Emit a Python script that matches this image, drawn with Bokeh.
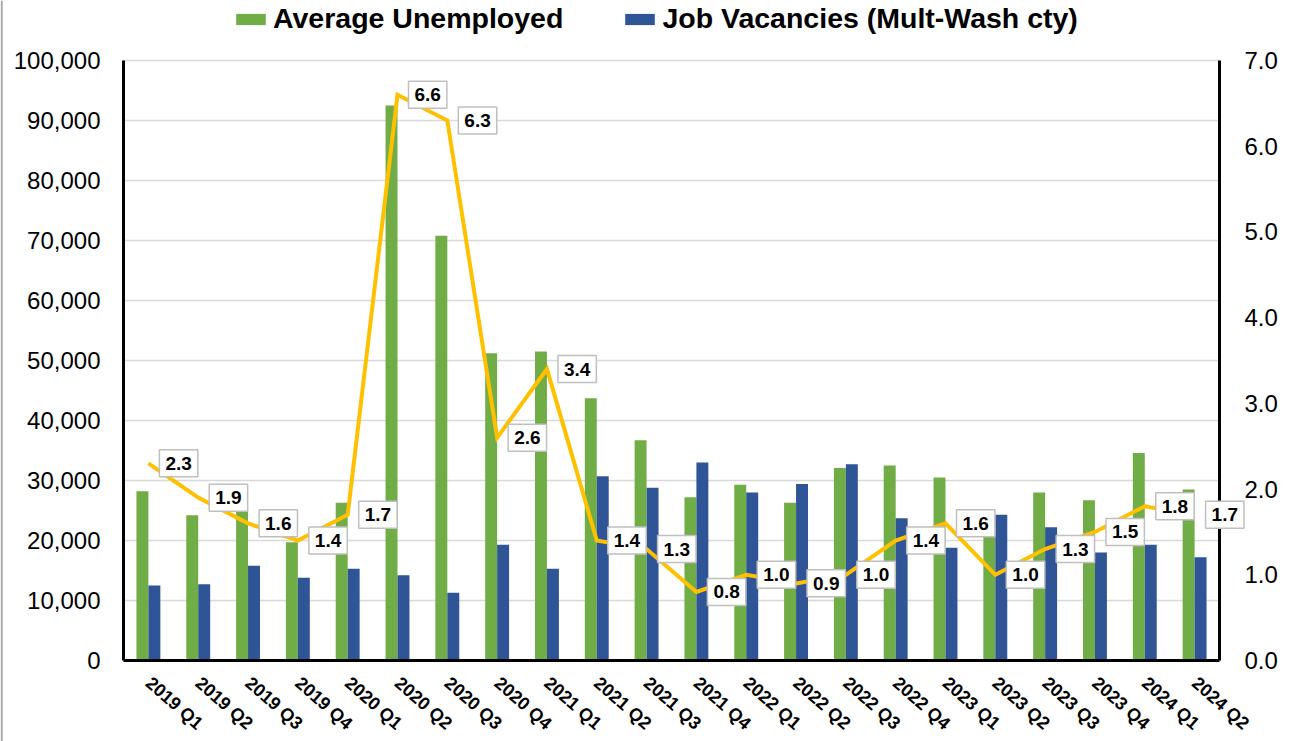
from bokeh.plotting import figure
from bokeh.models import (ColumnDataSource, Range1d, FixedTicker, LinearAxis, Span,
                          NumeralTickFormatter, Legend, LegendItem, Label)
from bokeh.transform import dodge
from bokeh.embed import file_html
from bokeh.resources import INLINE

quarters = ["2019 Q1", "2019 Q2", "2019 Q3", "2019 Q4",
            "2020 Q1", "2020 Q2", "2020 Q3", "2020 Q4",
            "2021 Q1", "2021 Q2", "2021 Q3", "2021 Q4",
            "2022 Q1", "2022 Q2", "2022 Q3", "2022 Q4",
            "2023 Q1", "2023 Q2", "2023 Q3", "2023 Q4",
            "2024 Q1", "2024 Q2"]
unemployed = [28200, 24200, 26000, 19700, 26300, 92500, 70800, 51200,
              51500, 43700, 36700, 27200, 29300, 26300, 32100, 32500,
              30500, 21000, 28000, 26700, 34600, 28500]
vacancies = [12500, 12700, 15800, 13800, 15300, 14200, 11300, 19300,
             15300, 30700, 28800, 33000, 28000, 29400, 32700, 23700,
             18800, 24300, 22200, 18000, 19300, 17200]
ratio = [2.3, 1.9, 1.6, 1.4, 1.7, 6.6, 6.3, 2.6, 3.4, 1.4, 1.3, 0.8,
         1.0, 0.9, 1.0, 1.4, 1.6, 1.0, 1.3, 1.5, 1.8, 1.7]
left_ticks = list(range(0, 100001, 10000))
right_ticks = [0, 1, 2, 3, 4, 5, 6, 7]

GREEN = "#70AD47"
BLUE = "#2F5597"
GOLD = "#FFC000"
FONT = "Liberation Sans"

N = len(quarters)
L_MAX = left_ticks[-1]
R_MAX = right_ticks[-1]

# layout (page pixels): the frame covers the whole canvas; the plot area is x 123..1219, y 60..660
W, H = 1297, 741
PL, PR, PT, PB = 123, 1219, 60, 660
pxu = (PR - PL) / N                     # pixels per category
x_start, x_end = -PL / pxu, (W - PL) / pxu
ypx = (PB - PT) / L_MAX
y_start, y_end = -(H - PB) / ypx, PB / ypx
rpx = (PB - PT) / R_MAX
r_start, r_end = -(H - PB) / rpx, PB / rpx

xs = [i + 0.5 for i in range(N)]
src = ColumnDataSource(dict(x=xs, q=quarters, u=unemployed, v=vacancies, r=ratio))

p = figure(width=W, height=H, x_range=Range1d(x_start, x_end), y_range=Range1d(y_start, y_end),
           output_backend="svg", toolbar_location=None,
           min_border_left=0, min_border_right=0, min_border_top=0, min_border_bottom=0)
p.extra_y_ranges = {"ratio": Range1d(r_start, r_end)}
p.outline_line_color = None
p.background_fill_color = "white"
p.xgrid.grid_line_color = None
p.ygrid.grid_line_color = None

# chart-area border at the left edge of the picture
p.add_layout(Span(location=x_start + 1.2 / pxu, dimension="height",
                  line_color="#A6A6A6", line_width=2))

# gridlines limited to the plot area
p.segment(x0=0, x1=N, y0=left_ticks[1:], y1=left_ticks[1:],
          line_color="#D9D9D9", line_width=1.5)

bu = p.vbar(x=dodge("x", -0.12), top="u", width=0.24, source=src,
            fill_color=GREEN, line_color=None)
bv = p.vbar(x=dodge("x", 0.12), top="v", width=0.24, source=src,
            fill_color=BLUE, line_color=None)
p.line(x="x", y="r", source=src, y_range_name="ratio", line_color=GOLD, line_width=4,
       line_join="miter")

for xi, r in zip(xs, ratio):
    p.add_layout(Label(x=xi, y=r, y_range_name="ratio", text="%.1f" % r,
                       x_offset=11, y_offset=0, text_align="left", text_baseline="middle",
                       text_font=FONT, text_font_style="bold", text_font_size="19px",
                       text_color="black", background_fill_color="white",
                       border_line_color="#BFBFBF", border_line_width=1.5,
                       padding=(6, 7)))

# x axis, fixed at value 0
p.xaxis.fixed_location = 0
p.xaxis.ticker = FixedTicker(ticks=xs)
p.xaxis.major_label_overrides = {xi: q for xi, q in zip(xs, quarters)}
p.xaxis.bounds = (0, N)
p.xaxis.axis_line_color = "black"
p.xaxis.axis_line_width = 3
p.xaxis.major_tick_line_color = None
p.xaxis.minor_tick_line_color = None
p.xaxis.major_label_orientation = -0.72
p.xaxis.major_label_text_font = FONT
p.xaxis.major_label_text_font_style = "bold"
p.xaxis.major_label_text_font_size = "18px"
p.xaxis.major_label_standoff = 14
p.xaxis.major_label_text_color = "black"

# left axis, fixed at the plot-area left edge
p.yaxis.fixed_location = 0
p.yaxis.ticker = FixedTicker(ticks=left_ticks)
p.yaxis.formatter = NumeralTickFormatter(format="0,0")
p.yaxis.bounds = (0, L_MAX)
p.yaxis.axis_line_color = "black"
p.yaxis.axis_line_width = 3
p.yaxis.major_tick_line_color = None
p.yaxis.minor_tick_line_color = None
p.yaxis.major_label_text_font = FONT
p.yaxis.major_label_text_font_size = "24px"
p.yaxis.major_label_standoff = 17
p.yaxis.major_label_text_color = "black"

# right axis (secondary scale), fixed at the plot-area right edge
ry = LinearAxis(y_range_name="ratio", ticker=FixedTicker(ticks=right_ticks),
                formatter=NumeralTickFormatter(format="0.0"), fixed_location=N,
                bounds=(0, R_MAX))
ry.axis_line_color = "black"
ry.axis_line_width = 3
ry.major_tick_line_color = None
ry.minor_tick_line_color = None
ry.major_label_text_font = FONT
ry.major_label_text_font_size = "24px"
ry.major_label_standoff = 19
ry.major_label_text_color = "black"
p.add_layout(ry, "right")

legend = Legend(items=[LegendItem(label="Average Unemployed", renderers=[bu]),
                       LegendItem(label="Job Vacancies (Mult-Wash cty)", renderers=[bv])],
                orientation="horizontal", location=(232, 706),
                glyph_width=37, glyph_height=14, label_standoff=4, spacing=58,
                label_text_font=FONT, label_text_font_style="bold",
                label_text_font_size="28.5px", label_text_color="black",
                border_line_color=None, background_fill_alpha=0, margin=0, padding=2)
p.add_layout(legend, "center")

open("out.html", "w").write(file_html(p, INLINE))
